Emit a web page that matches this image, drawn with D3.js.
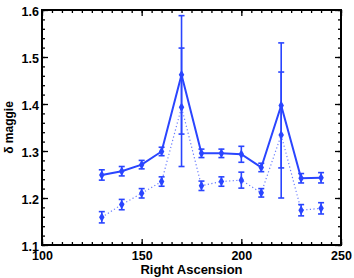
<!DOCTYPE html>
<html>
<head>
<meta charset="utf-8">
<script src="https://cdn.jsdelivr.net/npm/d3@7"></script>
<style>
  body { margin: 0; background: #fff; }
  svg text { font-family: "Liberation Sans", Arial, sans-serif; font-weight: bold; fill: #000; }
</style>
</head>
<body>
<div id="chart"></div>
<script>
// right ascension bins
var ra = [130, 140, 150, 160, 170, 180, 190, 200, 210, 220, 230, 240];

// solid series
var solidVal = [1.249, 1.257, 1.271, 1.299, 1.462, 1.295, 1.295, 1.293, 1.265, 1.397, 1.242, 1.243];
var solidErr = [0.011, 0.010, 0.009, 0.009, 0.126, 0.009, 0.009, 0.017, 0.009, 0.133, 0.010, 0.011];

// dotted series
var dotVal = [1.159, 1.186, 1.210, 1.235, 1.393, 1.226, 1.235, 1.238, 1.211, 1.334, 1.174, 1.178];
var dotErr = [0.012, 0.011, 0.010, 0.010, 0.126, 0.010, 0.010, 0.017, 0.009, 0.134, 0.012, 0.012];

var xTicks = [100, 150, 200, 250];
var yTicks = [1.1, 1.2, 1.3, 1.4, 1.5, 1.6];

var W = 354, H = 278;
var margin = {top: 10, right: 13, bottom: 33, left: 42};
var width = W - margin.left - margin.right,
    height = H - margin.top - margin.bottom;

var blue = "#2a45ff";

var svg = d3.select("#chart").append("svg")
  .attr("width", W).attr("height", H);

var g = svg.append("g")
  .attr("transform", "translate(" + margin.left + "," + margin.top + ")");

var x = d3.scaleLinear().domain([100, 250]).range([0, width]);
var y = d3.scaleLinear().domain([1.1, 1.6]).range([height, 0]);

var minorX = d3.range(100, 250.1, 5);
var minorY = d3.range(1.1, 1.6001, 0.02);

function styleAxis(sel) {
  sel.select(".domain").remove();
  sel.selectAll(".tick line").attr("stroke", "#000").attr("stroke-width", 1.3);
  sel.selectAll("text").style("font-size", "12.5px");
}

// minor ticks
g.append("g").attr("transform", "translate(0," + height + ")")
  .call(d3.axisBottom(x).tickValues(minorX).tickSize(-3).tickFormat(""))
  .call(styleAxis);
g.append("g")
  .call(d3.axisTop(x).tickValues(minorX).tickSize(-3).tickFormat(""))
  .call(styleAxis);
g.append("g")
  .call(d3.axisLeft(y).tickValues(minorY).tickSize(-3).tickFormat(""))
  .call(styleAxis);
g.append("g").attr("transform", "translate(" + width + ",0)")
  .call(d3.axisRight(y).tickValues(minorY).tickSize(-3).tickFormat(""))
  .call(styleAxis);

// major ticks
g.append("g").attr("transform", "translate(0," + height + ")")
  .call(d3.axisBottom(x).tickValues(xTicks).tickSize(-6).tickPadding(6).tickFormat(d3.format("d")))
  .call(styleAxis);
g.append("g")
  .call(d3.axisTop(x).tickValues(xTicks).tickSize(-6).tickFormat(""))
  .call(styleAxis);
g.append("g")
  .call(d3.axisLeft(y).tickValues(yTicks).tickSize(-6).tickPadding(3).tickFormat(d3.format(".1f")))
  .call(styleAxis)
  .selectAll("text").attr("dy", "0.45em");
g.append("g").attr("transform", "translate(" + width + ",0)")
  .call(d3.axisRight(y).tickValues(yTicks).tickSize(-6).tickFormat(""))
  .call(styleAxis);

// frame
g.append("rect")
  .attr("width", width).attr("height", height)
  .attr("fill", "none").attr("stroke", "#000").attr("stroke-width", 2);

function drawSeries(vals, errs, dashed) {
  var pts = ra.map(function(d, i) { return {x: d, y: vals[i], e: errs[i]}; });
  var line = d3.line().x(function(d) { return x(d.x); }).y(function(d) { return y(d.y); });
  g.append("path").datum(pts)
    .attr("d", line)
    .attr("fill", "none")
    .attr("stroke", blue)
    .attr("stroke-width", dashed ? 1.2 : 2)
    .attr("stroke-dasharray", dashed ? "1.2,2.4" : null)
    .attr("opacity", dashed ? 0.7 : 1);

  var eb = g.append("g").selectAll("g").data(pts).enter().append("g");
  eb.append("line")
    .attr("x1", function(d) { return x(d.x); }).attr("x2", function(d) { return x(d.x); })
    .attr("y1", function(d) { return y(d.y - d.e); }).attr("y2", function(d) { return y(d.y + d.e); })
    .attr("stroke", blue).attr("stroke-width", 1.6);
  [-1, 1].forEach(function(s) {
    eb.append("line")
      .attr("x1", function(d) { return x(d.x) - 3; }).attr("x2", function(d) { return x(d.x) + 3; })
      .attr("y1", function(d) { return y(d.y + s * d.e); }).attr("y2", function(d) { return y(d.y + s * d.e); })
      .attr("stroke", blue).attr("stroke-width", 1.6);
  });
  eb.append("path")
    .attr("d", d3.symbol().type(d3.symbolDiamond).size(26))
    .attr("transform", function(d) { return "translate(" + x(d.x) + "," + y(d.y) + ")"; })
    .attr("fill", blue);
}

drawSeries(dotVal, dotErr, true);
drawSeries(solidVal, solidErr, false);

// axis titles
svg.append("text")
  .attr("x", margin.left + width / 2).attr("y", 274)
  .attr("text-anchor", "middle")
  .style("font-size", "13px")
  .text("Right Ascension");

svg.append("text")
  .attr("transform", "translate(13," + (margin.top + height / 2) + ") rotate(-90)")
  .attr("text-anchor", "middle")
  .style("font-size", "12px")
  .text("δ maggie");
</script>
</body>
</html>
